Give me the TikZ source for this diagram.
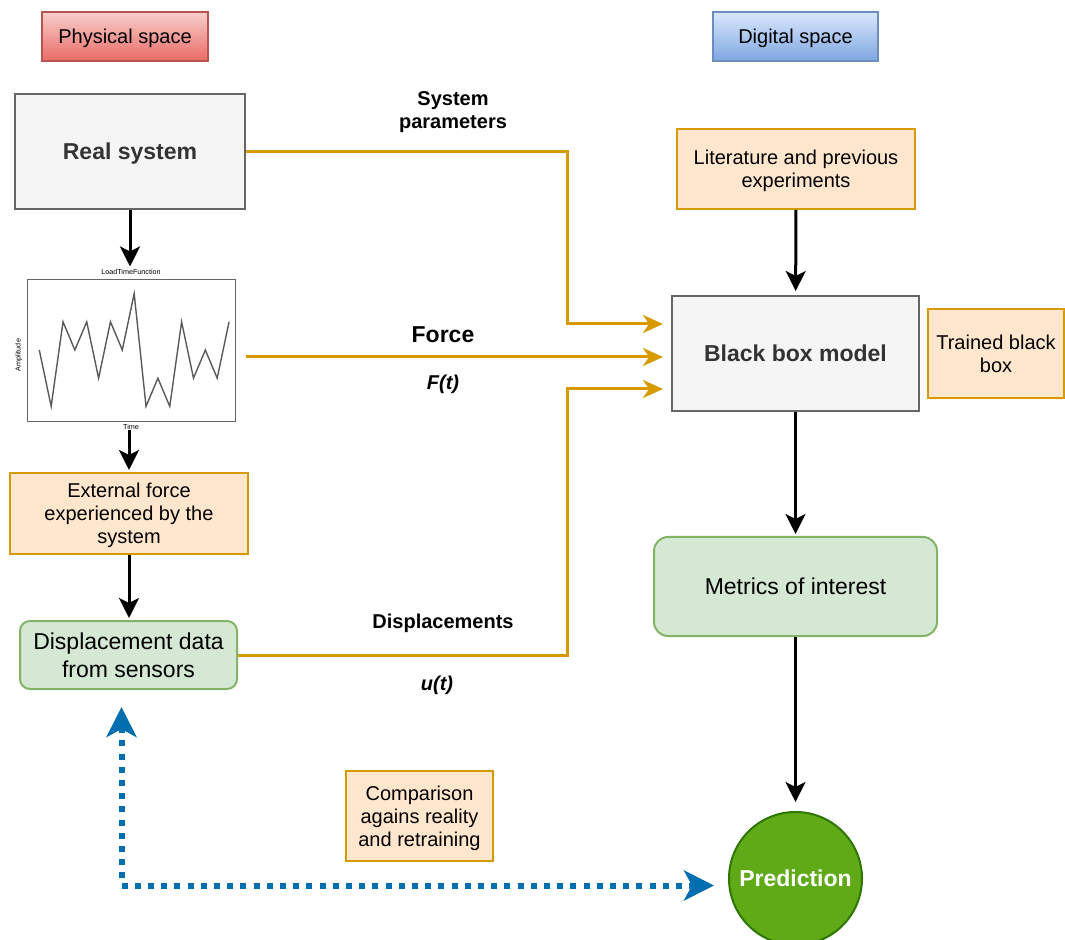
\documentclass[tikz,border=0pt]{standalone}
\usepackage{fontspec}
\setmainfont{Liberation Sans}
\usetikzlibrary{arrows.meta,positioning}
\definecolor{orangeline}{HTML}{D79B00}
\definecolor{orangefill}{HTML}{FFE6CC}
\definecolor{greenline}{HTML}{82B366}
\definecolor{greenfill}{HTML}{D5E8D4}
\definecolor{greyline}{HTML}{666666}
\definecolor{greyfill}{HTML}{F5F5F5}
\definecolor{greytext}{HTML}{333333}
\definecolor{redline}{HTML}{B85450}
\definecolor{redtop}{HTML}{F8CECC}
\definecolor{redbot}{HTML}{EA6B66}
\definecolor{blueline}{HTML}{6C8EBF}
\definecolor{bluetop}{HTML}{DAE8FC}
\definecolor{bluebot}{HTML}{7EA6E0}
\definecolor{predline}{HTML}{2D7600}
\definecolor{predfill}{HTML}{60A917}
\definecolor{loopblue}{HTML}{006EAF}

\begin{document}
\begin{tikzpicture}[x=0.5pt,y=-0.5pt,line join=miter,
    every node/.style={font=\fontsize{10}{11.5}\selectfont, align=center, inner sep=0pt, text depth=0pt},
    space/.style={draw, line width=1pt, minimum width=83pt, minimum height=24.5pt},
    physical/.style={space, draw=redline, top color=redtop, bottom color=redbot},
    digital/.style={space, draw=blueline, top color=bluetop, bottom color=bluebot},
    block/.style={draw=greyline, fill=greyfill, line width=1pt, text=greytext, font=\fontsize{11.5}{14}\selectfont\bfseries, minimum width=115pt, minimum height=57.5pt},
    note/.style={draw=orangeline, fill=orangefill, line width=1pt, minimum width=119pt, minimum height=40pt},
    data/.style={draw=greenline, fill=greenfill, line width=1pt, rounded corners=5pt, font=\fontsize{11.5}{14}\selectfont},
    linklabel/.style={font=\fontsize{10}{11.5}\selectfont\bfseries},
    plotframe/.style={draw=black!60, line width=0.5pt, minimum width=104pt, minimum height=71pt},
    plotline/.style={draw=black!65, line width=0.7pt},
    tiny/.style={font=\fontsize{3.6}{4}\selectfont},
    pass/.style={->, line width=1.5pt, shorten >=1pt, >={Stealth[length=10pt,width=10pt,inset=2.5pt]}},
    flow/.style={->, draw=orangeline, line width=1.5pt, shorten >=4pt, >={Stealth[length=10pt,width=9pt,inset=3pt]}},
    feedback/.style={<->, draw=loopblue, line width=3pt, dash pattern=on 3pt off 3.6pt, >={Stealth[length=15pt,width=15pt,inset=4pt]}}]

    \useasboundingbox (0,0) rectangle (1065,940);

    \node[physical] (phys) at (125,36.5) {Physical space};
    \node[digital, minimum width=82.5pt] (digi) at (795.5,36.5) {Digital space};

    \node[block] (real) at (130,151.5) {Real system};
    \node[plotframe] (frame) at (131,351) {};
    \node[tiny, above=2.5pt of frame] (ptitle) {LoadTimeFunction};
    \node[tiny, below=0.8pt of frame] (ptime) {Time};
    \node[tiny, rotate=90] (pamp) at (18,355) {Amplitude};
    \draw[plotline] (39.3,350) \foreach \v [count=\i] in {-2,1,0,1,-1,1,0,2,-2,-1,-2,1,-1,0,-1,1} { -- ({39.3+11.86*\i},{350-28.2*\v}) };
    \node[note, minimum height=40.5pt] (ext) at (129,513.5) {External force\\experienced by the\\system};
    \node[data, minimum width=108.5pt, minimum height=34pt] (disp) at (128.5,655) {Displacement data\\from sensors};

    \node[note] (lit) at (796,169) {Literature and previous\\experiments};
    \node[block, minimum width=123.5pt] (bbox) at (795.5,353.5) {Black box model};
    \node[note, minimum width=68pt, minimum height=44.5pt] (trained) at (996,353.5) {Trained black\\box};
    \node[data, minimum width=141.5pt, minimum height=49.5pt, rounded corners=7pt] (metrics) at (795.5,586.5) {Metrics of interest};
    \node[circle, draw=predline, fill=predfill, line width=1pt, minimum size=66.5pt, text=white, font=\fontsize{11.5}{14}\selectfont\bfseries] (pred) at (795.5,878.5) {Prediction};
    \node[note, minimum width=73.5pt, minimum height=45pt] (comp) at (419.5,816) {Comparison\\agains reality\\and retraining};

    \node[linklabel] (sysparam) at (453,110) {System\\parameters};
    \node[linklabel, font=\fontsize{11.5}{14}\selectfont\bfseries] (force) at (443,335) {Force};
    \node[linklabel, font=\fontsize{10}{11.5}\selectfont\bfseries\itshape] (ft) at (443,382) {F(t)};
    \node[linklabel] (displ) at (443,621) {Displacements};
    \node[linklabel, font=\fontsize{10}{11.5}\selectfont\bfseries\itshape] (ut) at (437,683) {u(t)};

    \coordinate (sysbend) at (567,324);
    \coordinate (dispbend) at (567,389);

    \draw[pass] (real.south) -- (real.south |- ptitle.north);
    \draw[pass] (ext.north |- ptime.south) -- (ext.north);
    \draw[pass] (ext.south) -- (ext.south |- disp.north);
    \draw[pass, shorten >=2pt] (lit) -- (bbox);
    \draw[pass] (bbox) -- (metrics);
    \draw[pass, shorten >=4.5pt] (metrics) -- (pred);

    \draw[flow] (real.east) -| (sysbend) -- (sysbend -| bbox.west);
    \draw[flow] ([xshift=5pt,yshift=-3pt]frame.east) -- ([yshift=-3pt]frame.east -| bbox.west);
    \draw[flow] (disp.east) -| (dispbend) -- (dispbend -| bbox.west);

    \draw[feedback, shorten <=8.5pt, shorten >=7pt] ([xshift=-3.5pt]disp.south) |- ([yshift=-3.5pt]pred.west);

\end{tikzpicture}
\end{document}
